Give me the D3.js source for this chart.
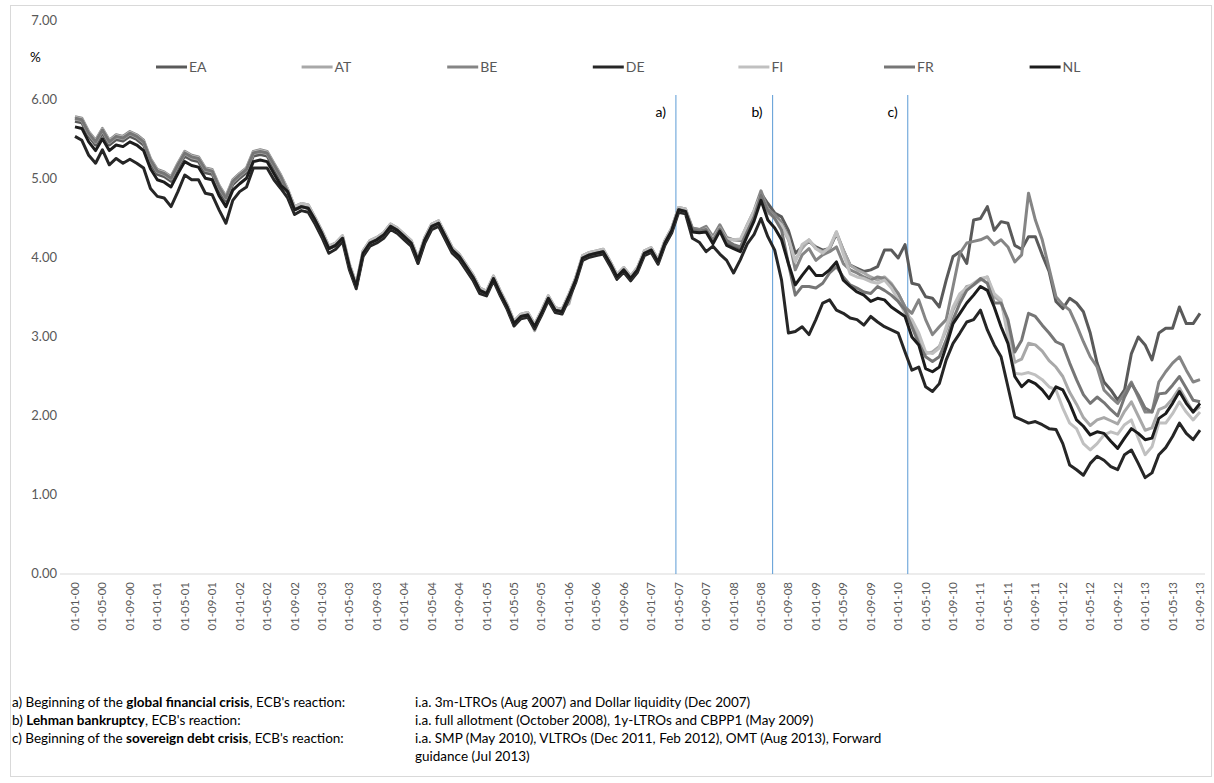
<!DOCTYPE html>
<html>
<head>
<meta charset="utf-8">
<title>Government bond yields</title>
<script src="https://d3js.org/d3.v7.min.js"></script>
<style>
  body { margin:0; background:#fff; font-family: Lato, "Liberation Sans", sans-serif; }
  svg text { font-family: Lato, "Liberation Sans", sans-serif; }
</style>
</head>
<body>
<div id="chart"></div>
<script>
// monthly, Jan 2000 .. Sep 2013
var countries = ["EA","AT","BE","DE","FI","FR","NL"];
var colors    = ["#5a5a5a","#a8a8a8","#858585","#262626","#c0c0c0","#767676","#1c1c1c"];
var yTicks = [0,1,2,3,4,5,6,7];

// Jan 2000 .. Jul 2002 (31 months)
var earlyEA = [5.73,5.71,5.54,5.43,5.58,5.43,5.50,5.48,5.54,5.50,5.43,5.20,5.06,5.03,4.97,5.14,5.29,5.24,5.22,5.08,5.06,4.86,4.72,4.93,5.01,5.08,5.29,5.31,5.29,5.14,4.99];
var earlyAT = [5.76,5.74,5.57,5.46,5.61,5.46,5.53,5.51,5.57,5.53,5.46,5.23,5.09,5.06,5.00,5.17,5.32,5.27,5.25,5.11,5.09,4.89,4.75,4.96,5.04,5.11,5.32,5.34,5.32,5.17,5.02];
var earlyBE = [5.79,5.77,5.60,5.49,5.64,5.49,5.56,5.54,5.60,5.56,5.49,5.26,5.12,5.09,5.03,5.20,5.35,5.30,5.28,5.14,5.12,4.92,4.78,4.99,5.07,5.14,5.35,5.37,5.35,5.20,5.05];
var earlyDE = [5.54,5.49,5.30,5.20,5.37,5.18,5.26,5.20,5.25,5.20,5.14,4.88,4.78,4.76,4.65,4.84,5.05,4.99,4.99,4.82,4.80,4.61,4.44,4.73,4.84,4.90,5.14,5.14,5.14,4.99,4.88];
var earlyFI = [5.78,5.76,5.59,5.48,5.63,5.48,5.55,5.53,5.59,5.55,5.48,5.25,5.11,5.08,5.02,5.19,5.34,5.29,5.27,5.13,5.11,4.91,4.77,4.98,5.06,5.13,5.34,5.36,5.34,5.19,5.04];
var earlyFR = [5.77,5.75,5.58,5.47,5.62,5.47,5.54,5.52,5.58,5.54,5.47,5.24,5.10,5.07,5.01,5.18,5.33,5.28,5.26,5.12,5.10,4.90,4.76,4.97,5.05,5.12,5.33,5.35,5.33,5.18,5.03];
var earlyNL = [5.66,5.64,5.47,5.36,5.51,5.36,5.43,5.41,5.47,5.43,5.36,5.13,4.99,4.96,4.90,5.07,5.22,5.17,5.15,5.01,4.99,4.79,4.65,4.86,4.94,5.01,5.22,5.24,5.22,5.07,4.92];

// Aug 2002 .. Jun 2007: series nearly on top of each other
var midCommon = [4.84,4.61,4.65,4.63,4.48,4.31,4.12,4.16,4.25,3.89,3.64,4.06,4.19,4.23,4.29,4.40,4.35,4.27,4.19,3.97,4.23,4.40,4.44,4.27,4.10,4.02,3.89,3.76,3.59,3.55,3.74,3.55,3.38,3.17,3.26,3.28,3.13,3.30,3.49,3.34,3.32,3.51,3.72,4.00,4.04,4.06,4.08,3.93,3.76,3.85,3.74,3.85,4.06,4.10,3.95,4.19,4.35,4.61,4.59];
var midBE = [4.87,4.65,4.69,4.67,4.51,4.34,4.15,4.19,4.28,3.92,3.67,4.09,4.22,4.26,4.32,4.43,4.38,4.30,4.22,4.00,4.26,4.43,4.47,4.30,4.13,4.05,3.92,3.79,3.62,3.58,3.77,3.58,3.41,3.20,3.29,3.31,3.16,3.33,3.52,3.37,3.35,3.54,3.75,4.03,4.07,4.09,4.11,3.96,3.79,3.88,3.77,3.88,4.09,4.13,3.98,4.22,4.38,4.64,4.62];
var midDE = [4.76,4.55,4.60,4.58,4.43,4.26,4.06,4.11,4.21,3.85,3.61,4.02,4.15,4.19,4.25,4.36,4.31,4.23,4.15,3.93,4.19,4.36,4.40,4.23,4.06,3.98,3.85,3.72,3.55,3.52,3.71,3.52,3.35,3.14,3.23,3.25,3.10,3.27,3.46,3.31,3.29,3.48,3.69,3.97,4.01,4.03,4.05,3.90,3.73,3.82,3.71,3.82,4.03,4.07,3.92,4.16,4.32,4.58,4.56];
var midAT = [4.84,4.61,4.65,4.63,4.48,4.31,4.12,4.16,4.25,3.89,3.64,4.06,4.19,4.23,4.29,4.40,4.35,4.27,4.19,3.93,4.21,4.40,4.44,4.27,4.10,4.02,3.89,3.76,3.59,3.55,3.74,3.55,3.38,3.14,3.26,3.28,3.08,3.30,3.49,3.34,3.36,3.42,3.75,4.00,4.04,4.06,4.08,3.93,3.76,3.85,3.74,3.85,4.06,4.10,3.95,4.19,4.35,4.61,4.59];

// Jul 2007 .. Sep 2013 (75 months)
var lateEA = [4.37,4.36,4.36,4.22,4.38,4.20,4.15,4.12,4.33,4.50,
  4.82,4.69,4.57,4.52,4.35,4.06,4.14,4.21,4.14,4.10,4.12,4.31,4.10,3.91,3.87,3.83,3.85,3.89,4.10,4.10,4.00,4.17,3.68,3.66,3.51,3.49,3.38,3.72,4.02,4.08,3.93,4.48,4.50,4.65,4.35,
  4.46,4.44,4.16,4.11,4.27,4.27,4.04,3.83,3.45,3.36,3.49,3.43,3.32,3.05,2.67,2.43,2.33,2.20,2.33,2.79,3.00,2.90,2.71,3.05,3.11,3.11,3.38,3.17,3.17,3.30];
var lateAT = [4.35,4.33,4.38,4.25,4.40,4.25,4.23,4.23,4.40,4.58,
  4.78,4.57,4.52,4.40,4.23,3.97,4.12,4.23,4.12,4.08,4.12,4.33,4.10,3.91,3.85,3.81,3.76,3.72,3.76,3.68,3.55,3.38,3.17,3.00,2.79,2.81,2.88,3.09,3.34,3.51,3.64,3.66,3.72,3.76,3.51,
  3.45,3.10,2.68,2.72,2.92,2.90,2.82,2.70,2.62,2.50,2.30,2.15,1.98,1.88,1.95,1.98,1.94,1.90,2.06,2.18,2.00,1.82,1.85,2.08,2.12,2.22,2.35,2.20,2.05,2.12];
var lateBE = [4.38,4.36,4.40,4.27,4.42,4.26,4.23,4.22,4.42,4.60,
  4.85,4.62,4.55,4.45,4.27,3.85,4.04,4.12,3.97,4.04,4.08,4.14,3.93,3.85,3.81,3.76,3.72,3.76,3.74,3.66,3.55,3.38,3.30,3.47,3.22,3.03,3.13,3.22,3.64,4.06,4.19,4.21,4.23,4.27,4.17,
  4.23,4.14,3.95,4.04,4.82,4.48,4.23,3.87,3.51,3.41,3.34,3.15,2.94,2.75,2.62,2.33,2.24,2.16,2.29,2.43,2.24,2.05,2.05,2.43,2.56,2.67,2.75,2.58,2.43,2.46];
var lateDE = [4.25,4.20,4.08,4.15,4.05,3.97,3.81,3.98,4.18,4.30,
  4.50,4.27,4.10,3.72,3.05,3.07,3.13,3.03,3.22,3.43,3.47,3.34,3.30,3.24,3.22,3.15,3.26,3.19,3.13,3.09,3.05,2.81,2.58,2.62,2.37,2.31,2.41,2.71,2.92,3.05,3.19,3.22,3.34,3.09,2.90,
  2.75,2.37,1.99,1.95,1.91,1.93,1.89,1.84,1.83,1.65,1.38,1.32,1.25,1.40,1.49,1.44,1.36,1.32,1.51,1.57,1.40,1.22,1.28,1.51,1.60,1.74,1.91,1.78,1.70,1.82];
var lateFI = [4.34,4.33,4.37,4.24,4.38,4.24,4.23,4.24,4.42,4.60,
  4.80,4.60,4.50,4.42,4.25,3.95,4.17,4.23,4.12,4.06,4.14,4.33,4.05,3.80,3.76,3.74,3.70,3.68,3.72,3.62,3.47,3.30,3.22,3.05,2.81,2.79,2.86,3.13,3.38,3.55,3.62,3.68,3.74,3.76,3.55,
  3.47,3.00,2.54,2.53,2.55,2.52,2.46,2.37,2.33,2.10,1.91,1.84,1.65,1.57,1.65,1.76,1.80,1.77,1.89,1.95,1.72,1.51,1.61,1.91,1.91,2.03,2.18,2.05,1.95,2.05];
var lateFR = [4.36,4.34,4.36,4.22,4.37,4.22,4.17,4.14,4.33,4.52,
  4.80,4.60,4.50,4.35,3.93,3.53,3.64,3.64,3.62,3.68,3.81,3.89,3.76,3.66,3.62,3.57,3.55,3.64,3.59,3.53,3.45,3.34,3.13,2.92,2.75,2.69,2.75,2.96,3.22,3.43,3.59,3.66,3.74,3.68,3.43,
  3.43,3.22,2.81,2.96,3.30,3.26,3.15,3.05,2.94,2.90,2.67,2.46,2.27,2.16,2.24,2.17,2.08,2.00,2.24,2.41,2.27,2.10,2.05,2.28,2.29,2.39,2.50,2.35,2.20,2.18];
var lateNL = [4.33,4.32,4.33,4.18,4.34,4.16,4.12,4.08,4.28,4.47,
  4.73,4.48,4.38,4.23,3.93,3.66,3.78,3.89,3.78,3.78,3.85,3.95,3.72,3.64,3.57,3.53,3.45,3.49,3.47,3.38,3.32,3.26,3.00,2.90,2.60,2.56,2.62,2.88,3.17,3.30,3.43,3.53,3.64,3.59,3.38,
  3.13,2.92,2.50,2.37,2.45,2.41,2.33,2.22,2.37,2.33,2.16,1.95,1.87,1.76,1.80,1.78,1.68,1.59,1.72,1.84,1.78,1.70,1.72,1.97,2.03,2.16,2.31,2.16,2.05,2.16];

var series = {
  EA: earlyEA.concat(midCommon, lateEA),
  AT: earlyAT.concat(midAT, lateAT),
  BE: earlyBE.concat(midBE, lateBE),
  DE: earlyDE.concat(midDE, lateDE),
  FI: earlyFI.concat(midBE, lateFI),
  FR: earlyFR.concat(midCommon, lateFR),
  NL: earlyNL.concat(midCommon, lateNL)
};

// month index (0 = Jan 2000) of the event markers
var eventIdx = [87.6, 101.7, 121.4];
var eventLabels = ["a)", "b)", "c)"];

var notesLeft = [
  [["a) Beginning of the ",0],["global financial crisis",1],[", ECB's reaction:",0]],
  [["b) ",0],["Lehman bankruptcy",1],[", ECB's reaction:",0]],
  [["c) Beginning of the ",0],["sovereign debt crisis",1],[", ECB's reaction:",0]]
];
var notesRight = [
  "i.a. 3m-LTROs (Aug 2007) and Dollar liquidity (Dec 2007)",
  "i.a. full allotment (October 2008),  1y-LTROs and CBPP1 (May 2009)",
  "i.a. SMP (May 2010), VLTROs (Dec 2011, Feb 2012), OMT (Aug  2013), Forward",
  "guidance (Jul 2013)"
];

var W = 1214, H = 783;
var n = series.EA.length;
var months = d3.range(n);
var dateLabel = function(i){
  var y = Math.floor(i/12), m = i%12 + 1;
  return "01-" + (m<10?"0":"") + m + "-" + (y<10?"0":"") + y;
};

var svg = d3.select("#chart").append("svg").attr("width", W).attr("height", H);

svg.append("rect").attr("x",10.5).attr("y",5.5).attr("width",1201).attr("height",771)
   .attr("fill","none").attr("stroke","#d9d9d9");

var x = d3.scaleLinear().domain([0, n-1]).range([75, 1200]);
var y = d3.scaleLinear().domain([0, 7]).range([574, 21]);

// y labels
svg.append("g").selectAll("text").data(yTicks).join("text")
   .attr("x", 57).attr("y", function(d){ return y(d)+4; })
   .attr("text-anchor","end").attr("font-size",13).attr("fill","#595959")
   .text(function(d){ return d.toFixed(2); });

svg.append("text").attr("x",30).attr("y",62).attr("font-size",13.5).attr("fill","#000").text("%");

// baseline
svg.append("line").attr("x1",60).attr("x2",1205).attr("y1",y(0)).attr("y2",y(0))
   .attr("stroke","#d9d9d9");

// x labels every 4 months
var xt = months.filter(function(i){ return i%4===0; });
svg.append("g").selectAll("text").data(xt).join("text")
   .attr("transform", function(i){ return "translate(" + (x(i)+4) + ",582) rotate(-90)"; })
   .attr("text-anchor","end").attr("font-size",11.5).attr("fill","#595959")
   .text(dateLabel);

// event lines
svg.append("g").selectAll("line").data(eventIdx).join("line")
   .attr("x1", function(d){ return x(d); }).attr("x2", function(d){ return x(d); })
   .attr("y1", 95).attr("y2", y(0)).attr("stroke","#5b9bd5").attr("stroke-width",1);
svg.append("g").selectAll("text").data(eventIdx).join("text")
   .attr("x", function(d){ return x(d)-10; }).attr("y", 117)
   .attr("text-anchor","end").attr("font-size",14).attr("fill","#000")
   .text(function(d,i){ return eventLabels[i]; });

// series lines
var line = d3.line().x(function(d,i){ return x(i); }).y(function(d){ return y(d); });
svg.append("g").selectAll("path").data(countries).join("path")
   .attr("d", function(c){ return line(series[c]); })
   .attr("fill","none").attr("stroke-width",3).attr("stroke-linejoin","round")
   .attr("stroke", function(c,i){ return colors[i]; });

// legend
var lg = svg.append("g").selectAll("g").data(countries).join("g")
   .attr("transform", function(c,i){ return "translate(" + (156 + i*145.6) + ",67)"; });
lg.append("line").attr("x1",0).attr("x2",31).attr("stroke-width",3)
   .attr("stroke", function(c,i){ return colors[i]; });
lg.append("text").attr("x",33).attr("y",5).attr("font-size",14).attr("fill","#595959")
   .text(function(c){ return c; });

// notes
var nl = svg.append("g").selectAll("text").data(notesLeft).join("text")
   .attr("x",12).attr("y", function(d,i){ return 707 + i*18; })
   .attr("font-size",13.5).attr("fill","#000");
nl.selectAll("tspan").data(function(d){ return d; }).join("tspan")
   .attr("font-weight", function(d){ return d[1] ? "bold" : "normal"; })
   .text(function(d){ return d[0]; });
svg.append("g").selectAll("text").data(notesRight).join("text")
   .attr("x",415).attr("y", function(d,i){ return 707 + i*18; })
   .attr("font-size",13.5).attr("fill","#000").text(function(d){ return d; });
</script>
</body>
</html>
